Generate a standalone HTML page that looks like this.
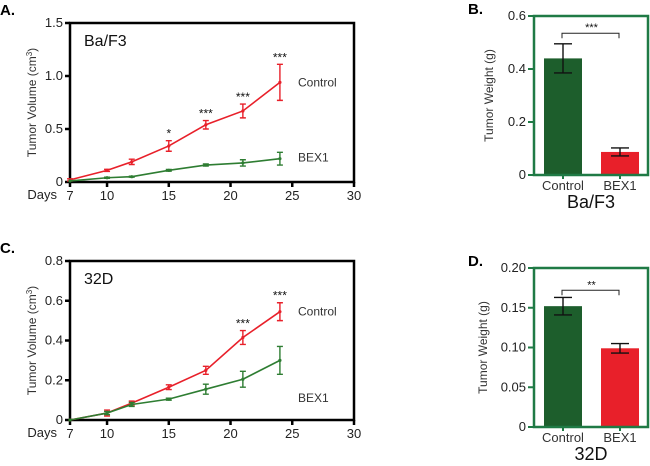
<!DOCTYPE html>
<html><head><meta charset="utf-8"><style>
html,body{margin:0;padding:0;background:#fff;}
svg{display:block;font-family:"Liberation Sans",Arial,sans-serif;}
</style></head><body>
<svg id="fig" width="650" height="466" viewBox="0 0 650 466"></svg>
<script>
// ---- data ----
const days = [7, 10, 12, 15, 18, 21, 24];
const xTicks = [7, 10, 15, 20, 25, 30];
const aControl = [0.02, 0.11, 0.19, 0.34, 0.54, 0.67, 0.94];
const aControlErr = [0.01, 0.01, 0.025, 0.05, 0.04, 0.065, 0.17];
const aBex = [0.01, 0.04, 0.05, 0.11, 0.16, 0.18, 0.22];
const aBexErr = [0, 0.005, 0.005, 0.008, 0.01, 0.03, 0.06];
const aStars = ["", "", "", "*", "***", "***", "***"];
const aYTicks = [0, 0.5, 1.0, 1.5];
const aYLabels = ["0", "0.5", "1.0", "1.5"];
const cControl = [0.0, 0.035, 0.085, 0.165, 0.25, 0.415, 0.545];
const cControlErr = [0, 0.015, 0.01, 0.012, 0.02, 0.035, 0.045];
const cBex = [0.0, 0.035, 0.078, 0.105, 0.155, 0.205, 0.30];
const cBexErr = [0, 0.008, 0.01, 0.005, 0.025, 0.04, 0.07];
const cStars = ["", "", "", "", "", "***", "***"];
const cYTicks = [0, 0.2, 0.4, 0.6, 0.8];
const cYLabels = ["0", "0.2", "0.4", "0.6", "0.8"];
const barCats = ["Control", "BEX1"];
const bVals = [0.44, 0.087];
const bErr = [0.055, 0.015];
const bYTicks = [0, 0.2, 0.4, 0.6];
const bYLabels = ["0", "0.2", "0.4", "0.6"];
const dVals = [0.152, 0.099];
const dErr = [0.011, 0.006];
const dYTicks = [0, 0.05, 0.10, 0.15, 0.20];
const dYLabels = ["0", "0.05", "0.10", "0.15", "0.20"];

const NS = "http://www.w3.org/2000/svg";
const svg = document.getElementById("fig");
function mk(tag, attrs, parent, text) {
  const e = document.createElementNS(NS, tag);
  for (const k in attrs) e.setAttribute(k, attrs[k]);
  if (text !== undefined) e.textContent = text;
  (parent || svg).appendChild(e);
  return e;
}
const RED = "#e8202a", GREEN = "#2e7d32", DGREEN = "#1d5e2c", BORDERG = "#1f7a45";

function lineChart(o) {
  const g = mk("g", {});
  
  
  const L = 70, R = 354, T = o.top, B = o.top + 159;
  const x = d => L + (d - 7) * (R - L) / 23;
  const y = v => B - v * (B - T) / o.ymax;
  const lbl = mk("text", {x: 0, y: o.top - 8, "font-size": 15, "font-weight": "bold"}, g, o.letter);
  
  
  const box = mk("rect", {x: L, y: T, width: R - L, height: B - T, fill: "none", stroke: "#000", "stroke-width": 2.5}, g);
  
  
  o.yTicks.forEach((t, i) => {
    mk("line", {x1: L - 5, x2: L, y1: y(t), y2: y(t), stroke: "#000", "stroke-width": 2.5}, g);
    const tl = mk("text", {x: L - 7, y: y(t) + 4, "font-size": 13, "text-anchor": "end", fill: "#222"}, g, o.yLabels[i]);
    
    
  });
  xTicks.forEach(t => {
    mk("line", {x1: x(t), x2: x(t), y1: B, y2: B + 5, stroke: "#000", "stroke-width": 2.5}, g);
    const tl = mk("text", {x: x(t), y: B + 18, "font-size": 13, "text-anchor": "middle", fill: "#222"}, g, String(t));
    
    
  });
  const dl = mk("text", {x: 57, y: B + 17, "font-size": 13, "text-anchor": "end", fill: "#222"}, g, "Days");
  
  
  const yt = mk("text", {x: 0, y: 0, "font-size": 12, "text-anchor": "middle", fill: "#333",
    transform: `translate(36,${(T + B) / 2}) rotate(-90)`}, g);
  
  
  yt.innerHTML = 'Tumor Volume (cm<tspan dy="-4" font-size="8">3</tspan><tspan dy="4">)</tspan>';
  const ct = mk("text", {x: 84, y: T + 23, "font-size": 16, fill: "#111"}, g, o.title);
  
  
  [[o.ctrl, o.ctrlErr, RED, "control-series"], [o.bex, o.bexErr, GREEN, "bex1-series"]].forEach(([vals, err, col, nm]) => {
    const s = mk("g", {}, g);
    
    
    const pl = mk("polyline", {points: days.map((d, i) => x(d) + "," + y(vals[i])).join(" "), fill: "none", stroke: col, "stroke-width": 1.6}, s);
    
    
    days.forEach((d, i) => {
      const e = err[i];
      if (e > 0.004) {
        const eb = mk("path", {d: `M${x(d)},${y(vals[i] + e)}V${y(vals[i] - e)}M${x(d) - 3},${y(vals[i] + e)}h6M${x(d) - 3},${y(vals[i] - e)}h6`, stroke: col, "stroke-width": 1.4, fill: "none"}, s);
        
        
      }
      const p = mk("circle", {cx: x(d), cy: y(vals[i]), r: 1.6, fill: col}, s);
      
      
    });
  });
  days.forEach((d, i) => {
    if (!o.stars[i]) return;
    const top = Math.max(o.ctrl[i] + o.ctrlErr[i], o.bex[i] + o.bexErr[i]);
    const st = mk("text", {x: x(d), y: y(top) - 3, "font-size": 12, "text-anchor": "middle", fill: "#111"}, g, o.stars[i]);
    
    
  });
  const lc = mk("text", {x: 298, y: y(o.ctrl[6]) + 4, "font-size": 12, fill: "#333"}, g, "Control");
  
  
  const lb = mk("text", {x: 298, y: y(o.bexLabelY) + 4, "font-size": 12, fill: "#333"}, g, "BEX1");
  
  
}

function barChart(o) {
  const g = mk("g", {});
  
  
  const L = 534, R = 648, T = o.top, B = o.top + 159;
  const y = v => B - v * (B - T) / o.ymax;
  const cx = [563, 620];
  const bw = 38;
  const lbl = mk("text", {x: 468, y: o.top - 2, "font-size": 15, "font-weight": "bold"}, g, o.letter);
  
  
  const cols = [DGREEN, RED];
  o.vals.forEach((v, i) => {
    const r = mk("rect", {x: cx[i] - bw / 2, y: y(v), width: bw, height: B - y(v), fill: cols[i]}, g);
    
    
    const e = o.err[i];
    const eb = mk("path", {d: `M${cx[i]},${y(v + e)}V${y(v - e)}M${cx[i] - 9},${y(v + e)}h18M${cx[i] - 9},${y(v - e)}h18`, stroke: "#111", "stroke-width": 1.4, fill: "none"}, g);
    
    
    const xl = mk("text", {x: cx[i], y: B + 15, "font-size": 13, "text-anchor": "middle", fill: "#333"}, g, barCats[i]);
    
    
    mk("line", {x1: cx[i], x2: cx[i], y1: B, y2: B + 4, stroke: BORDERG, "stroke-width": 2}, g);
  });
  const box = mk("rect", {x: L, y: T, width: R - L, height: B - T, fill: "none", stroke: BORDERG, "stroke-width": 2.5}, g);
  
  
  o.yTicks.forEach((t, i) => {
    mk("line", {x1: L - 6, x2: L, y1: y(t), y2: y(t), stroke: BORDERG, "stroke-width": 2}, g);
    const tl = mk("text", {x: L - 8, y: y(t) + 4, "font-size": 13, "text-anchor": "end", fill: "#222"}, g, o.yLabels[i]);
    
    
  });
  const yt = mk("text", {x: 0, y: 0, "font-size": 12, "text-anchor": "middle", fill: "#333",
    transform: `translate(${o.ytx},${(T + B) / 2}) rotate(-90)`}, g, "Tumor Weight (g)");
  
  
  const by = y(o.bracket);
  const br = mk("path", {d: `M${cx[0] - 1},${by + 5}V${by}H${cx[1] - 1}V${by + 5}`, stroke: "#222", "stroke-width": 1, fill: "none"}, g);
  
  
  const st = mk("text", {x: (cx[0] + cx[1]) / 2, y: by - 2, "font-size": 11, "text-anchor": "middle", fill: "#111"}, g, o.stars);
  
  
  const ct = mk("text", {x: 591, y: B + 33, "font-size": 18, "text-anchor": "middle", fill: "#111"}, g, o.title);
  
  
}

lineChart({name: "chart-a-ba-f3-volume", letter: "A.", top: 23, ymax: 1.5, yTicks: aYTicks, yLabels: aYLabels, title: "Ba/F3",
  ctrl: aControl, ctrlErr: aControlErr, bex: aBex, bexErr: aBexErr, stars: aStars, bexLabelY: 0.23});
lineChart({name: "chart-c-32d-volume", letter: "C.", top: 261, ymax: 0.8, yTicks: cYTicks, yLabels: cYLabels, title: "32D",
  ctrl: cControl, ctrlErr: cControlErr, bex: cBex, bexErr: cBexErr, stars: cStars, bexLabelY: 0.11});
barChart({name: "chart-b-ba-f3-weight", letter: "B.", top: 16, ymax: 0.6, yTicks: bYTicks, yLabels: bYLabels, vals: bVals, err: bErr,
  bracket: 0.535, stars: "***", title: "Ba/F3", ytx: 493});
barChart({name: "chart-d-32d-weight", letter: "D.", top: 268, ymax: 0.2, yTicks: dYTicks, yLabels: dYLabels, vals: dVals, err: dErr,
  bracket: 0.172, stars: "**", title: "32D", ytx: 487});
</script>
</body></html>
